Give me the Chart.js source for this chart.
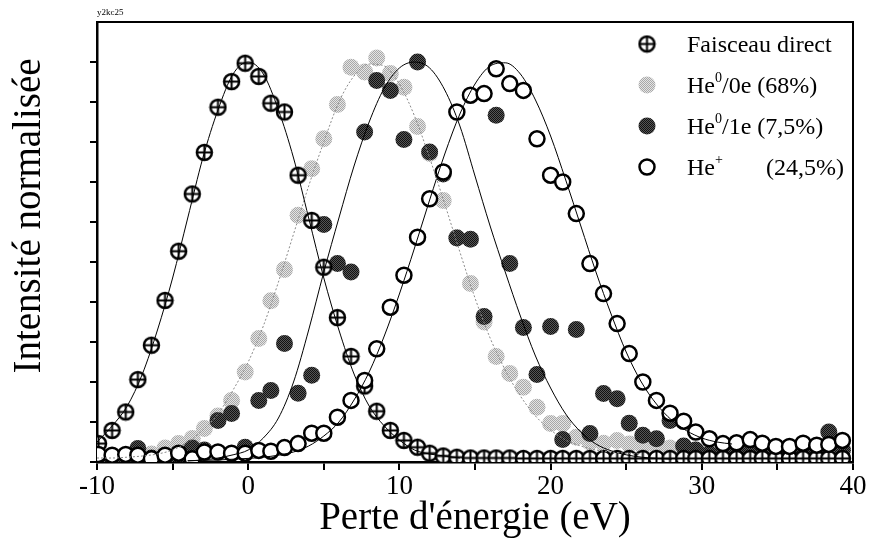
<!DOCTYPE html>
<html>
<head>
<meta charset="utf-8">
<script src="https://cdn.jsdelivr.net/npm/chart.js@4.4.1/dist/chart.umd.min.js"></script>
<style>
  html, body { margin: 0; padding: 0; background: #fff; }
  #wrap { width: 869px; height: 544px; }
</style>
</head>
<body>
<div id="wrap"><canvas id="chart" width="869" height="544"></canvas></div>
<script>
// energy loss (eV) of each measured channel
const energy = [-9.9, -9.0, -8.1, -7.3, -6.4, -5.5, -4.6, -3.7, -2.9, -2.0, -1.1, -0.2, 0.7, 1.5, 2.4, 3.3, 4.2, 5.0, 5.9, 6.8,
  7.7, 8.5, 9.4, 10.3, 11.2, 12.0, 12.9, 13.8, 14.7, 15.6, 16.4, 17.3, 18.2, 19.1, 20.0, 20.8, 21.7, 22.6, 23.5, 24.4,
  25.2, 26.1, 27.0, 27.9, 28.8, 29.6, 30.5, 31.4, 32.3, 33.2, 34.0, 34.9, 35.8, 36.7, 37.6, 38.4, 39.3];

// normalised intensities, one value per channel
const directBeam = [0.046, 0.079, 0.125, 0.206, 0.292, 0.404, 0.527, 0.67, 0.774, 0.887, 0.951, 0.997, 0.964, 0.897, 0.875, 0.717, 0.604, 0.487, 0.361, 0.264,
  0.19, 0.127, 0.079, 0.054, 0.037, 0.022, 0.015, 0.012, 0.01, 0.01, 0.01, 0.01, 0.009, 0.009, 0.009, 0.009, 0.009, 0.009, 0.009, 0.009,
  0.009, 0.009, 0.009, 0.009, 0.009, 0.009, 0.009, 0.009, 0.009, 0.009, 0.009, 0.009, 0.009, 0.009, 0.009, 0.009, 0.009];
const he0_0e = [0.01, 0.01, 0.005, 0.03, 0.02, 0.035, 0.046, 0.059, 0.084, 0.115, 0.154, 0.225, 0.309, 0.403, 0.481, 0.617, 0.733, 0.808, 0.894, 0.987,
  0.975, 1.01, 0.971, 0.937, 0.839, 0.771, 0.654, 0.561, 0.446, 0.35, 0.264, 0.221, 0.187, 0.137, 0.096, 0.096, 0.062, 0.05, 0.047, 0.054,
  0.045, 0.04, 0.04, 0.035, 0.035, 0.03, 0.03, 0.03, 0.035, 0.03, 0.025, 0.03, 0.025, 0.03, 0.025, 0.03, 0.03];
const he0_1e = [0.0, 0.01, 0.01, 0.034, 0.01, 0.004, 0.02, 0.035, 0.03, 0.104, 0.121, 0.037, 0.154, 0.179, 0.296, 0.172, 0.217, 0.594, 0.496, 0.475,
  0.825, 0.954, 0.929, 0.806, 1.0, 0.775, 0.72, 0.56, 0.557, 0.364, 0.867, 0.496, 0.336, 0.219, 0.339, 0.056, 0.331, 0.071, 0.171, 0.158,
  0.097, 0.067, 0.058, 0.104, 0.04, 0.03, 0.02, 0.025, 0.02, 0.025, 0.02, 0.02, 0.025, 0.02, 0.03, 0.075, 0.03];
const hePlus = [0.019, 0.017, 0.019, 0.017, 0.008, 0.017, 0.022, 0.008, 0.025, 0.025, 0.022, 0.022, 0.029, 0.027, 0.036, 0.046, 0.072, 0.072, 0.112, 0.154,
  0.204, 0.283, 0.387, 0.467, 0.562, 0.658, 0.725, 0.875, 0.917, 0.921, 0.983, 0.946, 0.929, 0.808, 0.717, 0.7, 0.621, 0.496, 0.421, 0.346,
  0.271, 0.2, 0.154, 0.122, 0.102, 0.075, 0.058, 0.046, 0.048, 0.056, 0.047, 0.039, 0.039, 0.047, 0.042, 0.044, 0.054];

// fitted curves, sampled off the figure
const directFitX = [-10, -9, -8, -7, -6, -5, -4, -3, -2, -1, 0, 1, 2, 3, 4, 5, 6, 7, 8, 9, 10, 11, 12, 13, 14];
const directFitY = [0.05, 0.09, 0.14, 0.22, 0.33, 0.46, 0.61, 0.76, 0.88, 0.97, 1.0, 0.97, 0.88, 0.76, 0.61, 0.46, 0.33, 0.22, 0.14, 0.09, 0.055, 0.03, 0.02, 0.015, 0.01];
const he00FitX = [-10, -9, -8, -7, -6, -5, -4, -3, -2, -1, 0, 1, 2, 3, 4, 5, 6, 7, 8, 9, 10, 11, 12, 13, 14, 15, 16, 17, 18, 19, 20, 21, 22, 23, 24, 25, 26];
const he00FitY = [0.01, 0.01, 0.012, 0.015, 0.02, 0.03, 0.05, 0.08, 0.12, 0.18, 0.25, 0.34, 0.45, 0.57, 0.69, 0.80, 0.90, 0.965, 0.995, 0.99, 0.945, 0.865, 0.76, 0.645, 0.525, 0.41, 0.31, 0.23, 0.165, 0.115, 0.08, 0.055, 0.04, 0.03, 0.025, 0.022, 0.02];
const he01FitX = [-4, -3, -2, -1, 0, 1, 2, 3, 4, 5, 6, 7, 8, 9, 10, 11, 12, 13, 14, 15, 16, 17, 18, 19, 20, 21, 22, 23, 24, 25, 26, 27, 28];
const he01FitY = [0.003, 0.005, 0.01, 0.018, 0.03, 0.06, 0.11, 0.2, 0.33, 0.475, 0.61, 0.74, 0.85, 0.935, 0.985, 1.0, 0.985, 0.93, 0.84, 0.715, 0.59, 0.475, 0.365, 0.265, 0.185, 0.12, 0.075, 0.045, 0.028, 0.018, 0.012, 0.009, 0.007];
const hePlusFitX = [-4, -3, -2, -1, 0, 1, 2, 3, 4, 5, 6, 7, 8, 9, 10, 11, 12, 13, 14, 15, 16, 17, 18, 19, 20, 21, 22, 23, 24, 25, 26, 27, 28, 29, 30, 31, 32];
const hePlusFitY = [0.003, 0.004, 0.005, 0.007, 0.009, 0.012, 0.017, 0.025, 0.04, 0.065, 0.1, 0.155, 0.225, 0.315, 0.42, 0.535, 0.655, 0.77, 0.87, 0.945, 0.99, 0.998, 0.97, 0.905, 0.815, 0.705, 0.59, 0.475, 0.37, 0.275, 0.2, 0.145, 0.105, 0.078, 0.06, 0.05, 0.045];

const xTicks = [-10, 0, 10, 20, 30, 40];
const FONT = '"Liberation Serif", "DejaVu Serif", serif';

function pts(xs, ys) {
  return xs.map((x, i) => ({ x: x, y: ys[i] })).filter(p => p.y !== null);
}

// stippled fill like the halftone print
function stipple(c1, c2) {
  const p = document.createElement('canvas');
  p.width = 2; p.height = 2;
  const g = p.getContext('2d');
  g.fillStyle = c1; g.fillRect(0, 0, 2, 2);
  g.fillStyle = c2; g.fillRect(0, 0, 1, 1); g.fillRect(1, 1, 1, 1);
  return document.getElementById('chart').getContext('2d').createPattern(p, 'repeat');
}
const lightFill = stipple('#e4e4e4', '#a8a8a8');
const darkFill = stipple('#555555', '#111111');

// crossed circle marker
function crossedCircle(r) {
  const c = document.createElement('canvas');
  const s = Math.ceil(2 * r + 4);
  c.width = s; c.height = s;
  const g = c.getContext('2d');
  const m = s / 2;
  g.fillStyle = '#fff';
  g.strokeStyle = '#000';
  g.lineWidth = 2.5;
  g.beginPath(); g.arc(m, m, r, 0, Math.PI * 2); g.fill(); g.stroke();
  g.lineWidth = 2;
  g.beginPath();
  g.moveTo(m - r, m); g.lineTo(m + r, m);
  g.moveTo(m, m - r); g.lineTo(m, m + r);
  g.stroke();
  return c;
}
const crossImg = crossedCircle(7.5);

function line(data, color, dash) {
  return {
    type: 'line', data: data, borderColor: color, borderWidth: 1, borderDash: dash || [],
    pointRadius: 0, tension: 0.4, fill: false, cubicInterpolationMode: 'monotone'
  };
}

// frame, titles and legend
const extras = {
  id: 'extras',
  afterDraw(chart) {
    const ctx = chart.ctx;
    const a = chart.chartArea;
    ctx.save();
    ctx.strokeStyle = '#000';
    ctx.lineWidth = 2;
    ctx.beginPath();
    ctx.moveTo(a.left, a.top); ctx.lineTo(a.right, a.top); ctx.lineTo(a.right, a.bottom);
    ctx.stroke();

    ctx.fillStyle = '#000';
    ctx.font = '9px ' + FONT;
    ctx.textAlign = 'left';
    ctx.textBaseline = 'alphabetic';
    ctx.fillText('y2kc25', 97, 15);

    ctx.font = '39px ' + FONT;
    ctx.textAlign = 'center';
    ctx.textBaseline = 'middle';
    ctx.fillText("Perte d'énergie (eV)", 475, 519);
    ctx.save();
    ctx.translate(30, 216);
    ctx.rotate(-Math.PI / 2);
    ctx.fillText('Intensité normalisée', 0, 0);
    ctx.restore();

    // legend
    const sx = 647, tx = 687;
    const rows = [44, 85, 126, 167];
    ctx.drawImage(crossImg, sx - crossImg.width / 2, rows[0] - crossImg.height / 2);
    ctx.fillStyle = lightFill;
    ctx.beginPath(); ctx.arc(sx, rows[1], 8.5, 0, Math.PI * 2); ctx.fill();
    ctx.fillStyle = darkFill;
    ctx.beginPath(); ctx.arc(sx, rows[2], 8.5, 0, Math.PI * 2); ctx.fill();
    ctx.fillStyle = '#fff'; ctx.lineWidth = 2.5;
    ctx.beginPath(); ctx.arc(sx, rows[3], 7.5, 0, Math.PI * 2); ctx.fill(); ctx.stroke();

    ctx.fillStyle = '#000';
    ctx.textAlign = 'left';
    ctx.textBaseline = 'alphabetic';
    const big = '24px ' + FONT, small = '14px ' + FONT;
    function rich(parts, x, y) {
      parts.forEach(p => {
        if (p.at) x = p.at;
        ctx.font = p.sup ? small : big;
        ctx.fillText(p.t, x, p.sup ? y - 11 : y);
        x += ctx.measureText(p.t).width;
      });
    }
    rich([{ t: 'Faisceau direct' }], tx, rows[0] + 8);
    rich([{ t: 'He' }, { t: '0', sup: true }, { t: '/0e (68%)' }], tx, rows[1] + 8);
    rich([{ t: 'He' }, { t: '0', sup: true }, { t: '/1e (7,5%)' }], tx, rows[2] + 8);
    rich([{ t: 'He' }, { t: '+', sup: true }, { t: '(24,5%)', at: 766 }], tx, rows[3] + 8);
    ctx.restore();
  }
};

new Chart(document.getElementById('chart'), {
  type: 'scatter',
  data: {
    datasets: [
      line(pts(directFitX, directFitY), '#000'),
      line(pts(he00FitX, he00FitY), '#8a8a8a', [2, 2]),
      line(pts(he01FitX, he01FitY), '#000'),
      line(pts(hePlusFitX, hePlusFitY), '#000'),
      {
        label: 'He+ (24,5%)', data: pts(energy, hePlus),
        pointStyle: 'circle', pointRadius: 7.5, borderWidth: 2.5,
        borderColor: '#000', backgroundColor: '#fff'
      },
      {
        label: 'Faisceau direct', data: pts(energy, directBeam),
        pointStyle: crossImg
      },
      {
        label: 'He0/1e (7,5%)', data: pts(energy, he0_1e),
        pointStyle: 'circle', pointRadius: 8.5, borderWidth: 0,
        backgroundColor: darkFill, borderColor: darkFill
      },
      {
        label: 'He0/0e (68%)', data: pts(energy, he0_0e),
        pointStyle: 'circle', pointRadius: 8.5, borderWidth: 0,
        backgroundColor: lightFill, borderColor: lightFill
      }
    ]
  },
  options: {
    responsive: false,
    animation: false,
    events: [],
    layout: { padding: { top: 22, right: 16, left: 0, bottom: 0 } },
    plugins: { legend: { display: false }, tooltip: { enabled: false } },
    scales: {
      x: {
        type: 'linear', min: -10, max: 40,
        border: { display: true, color: '#000', width: 2.5 },
        grid: { display: true, drawOnChartArea: false, drawTicks: true, tickLength: 8, color: '#000', lineWidth: 2 },
        ticks: {
          stepSize: 5, color: '#000', padding: 1, maxRotation: 0,
          font: { family: FONT, size: 27 },
          callback: v => xTicks.includes(v) ? String(v) : ''
        },
        afterFit: s => { s.height = 82; }
      },
      y: {
        min: 0, max: 1.1,
        border: { display: true, color: '#000', width: 2.5 },
        grid: {
          display: true, drawOnChartArea: false, drawTicks: true, tickLength: 7, lineWidth: 2,
          color: c => (c.tick && c.tick.value > 1.05) ? 'rgba(0,0,0,0)' : '#000'
        },
        ticks: { stepSize: 0.1, display: false },
        afterFit: s => { s.width = 97; }
      }
    }
  },
  plugins: [extras]
});
</script>
</body>
</html>
